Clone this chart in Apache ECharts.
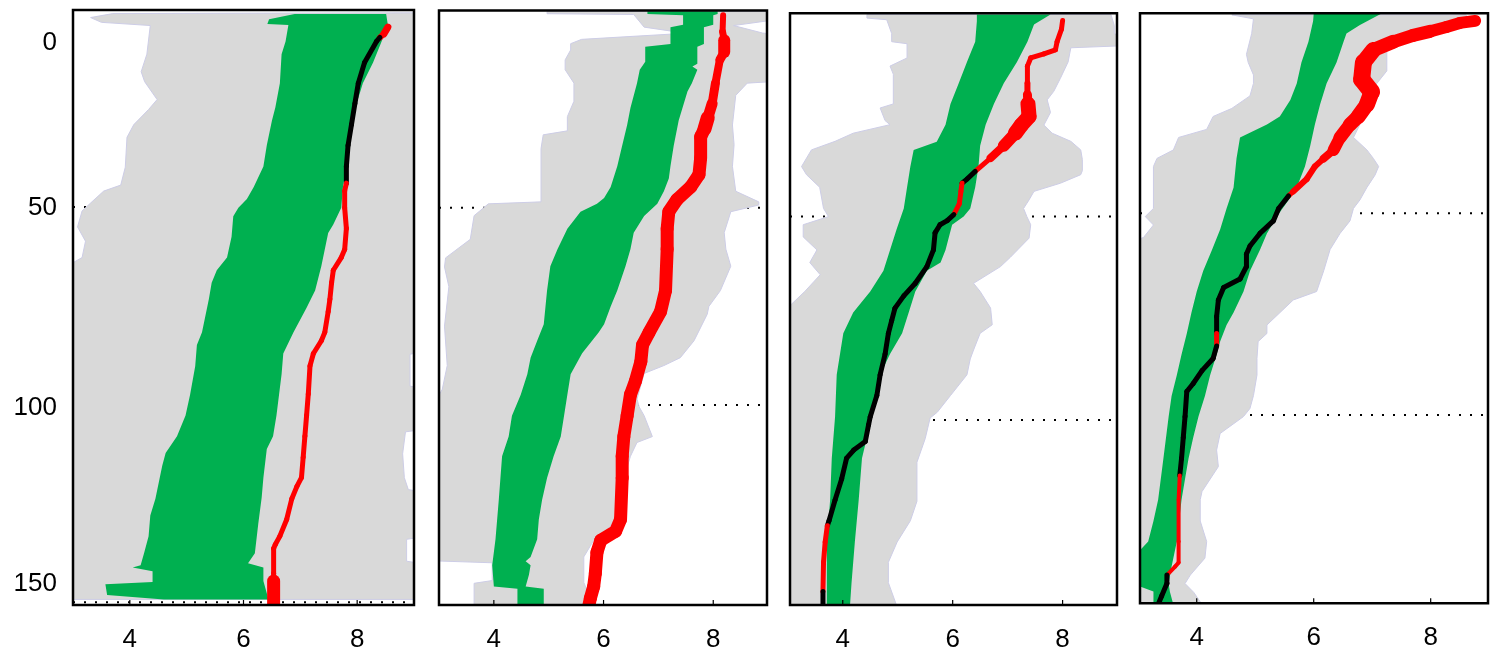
<!DOCTYPE html>
<html><head><meta charset="utf-8">
<script src="https://cdn.jsdelivr.net/npm/echarts@6/dist/echarts.min.js"></script>
<style>html,body{margin:0;padding:0;background:#fff}#c{width:1493px;height:653px}</style>
</head><body><div id="c"></div><script>
// ---------- DATA: [depth, value] pairs ----------
const X_TICKS = [4, 6, 8];
const Y_TICK_LABELS = ['0', '50', '100', '150'];
const Y_TICK_AT = [8.7, 50.3, 100.4, 144.8];
const REF_DEPTHS_P1 = [50, 100, 149.3];
const REF_DEPTHS = [50, 100];

const P1_GREY_L = [[1.4,3.7],[2.4,3.31],[3.6,3.5],[4.4,4.36],[11.6,4.3],[16,4.2],[18.5,4.26],[23,4.48],[25.5,4.33],[29.3,4.07],[32.5,3.95],[40,3.92],[44.5,3.84],[46,3.54],[49,3.31],[51,3.16],[55,3.08],[58.6,3.22],[62.7,3.16],[64.8,2.9],[148.6,2.9]];
const P1_GREY_R = [[1.2,9.1],[86.5,9.1],[87,8.93],[95,8.93],[95.5,9.1],[106,9.1],[106.5,8.85],[112,8.8],[118,8.83],[121,8.9],[121.5,9.1],[133,9.1],[133.5,8.87],[139,8.87],[139.5,9.1],[148.6,9.1]];
const P1_GREEN_L = [[1.5,6.9],[2.8,6.45],[4.0,6.42],[4.3,6.79],[8.4,6.74],[11.6,6.67],[18.9,6.64],[25,6.56],[28.3,6.5],[34.5,6.41],[39.8,6.35],[45,6.18],[48,6.06],[50.2,5.91],[52.3,5.82],[57.5,5.79],[62.7,5.71],[65.9,5.53],[69,5.44],[73.2,5.39],[81.5,5.27],[84.7,5.18],[90,5.15],[97.2,5.06],[102.4,4.98],[107.6,4.83],[111.8,4.63],[115,4.57],[123.3,4.45],[127.5,4.36],[132.7,4.33],[137,4.25],[140,4.19],[140.6,4.05],[141.5,4.4],[144.2,4.4],[144.8,3.57],[147.5,3.6],[148.6,4.6]];
const P1_GREEN_R = [[1.5,8.51],[4.3,8.54],[8.4,8.43],[13.7,8.28],[18.9,8.1],[24,7.99],[29.3,7.93],[34.5,7.87],[39.8,7.81],[45,7.75],[50.2,7.72],[54.4,7.58],[56.5,7.49],[60.7,7.43],[64.8,7.37],[71,7.26],[75.3,7.11],[81.5,6.88],[86.8,6.7],[92,6.67],[102.4,6.58],[107.6,6.52],[110.8,6.41],[118,6.35],[123,6.32],[129.6,6.26],[137,6.2],[139.5,6.08],[140.6,6.35],[144,6.35],[148.6,6.44]];
// trace: [depth, value, thickness, flag(1 = black, 0 = red)]
const P1_TRACE = [[4.8,8.54,7,0],[6.5,8.47,6,0],[7.4,8.4,5,1],[8.4,8.34,5,1],[13.7,8.13,5,1],[18.9,8.02,5,1],[24,7.96,5,1],[29.3,7.9,5,1],[34.5,7.84,5,1],[39.8,7.81,5,1],[44,7.81,5,0],[46,7.78,5,0],[50.2,7.78,5,0],[55.4,7.81,5,0],[60.7,7.78,5,0],[62.7,7.72,5,0],[65.9,7.58,5,0],[69,7.55,5,0],[73.2,7.52,5,0],[76.3,7.49,5,0],[81.5,7.43,5,0],[83.6,7.37,5,0],[86.8,7.23,5,0],[89.9,7.17,5,0],[97,7.14,5,0],[102.4,7.11,5,0],[107.6,7.08,5,0],[112.9,7.05,5,0],[118,7.02,5,0],[120.2,6.94,5,0],[123.3,6.85,5,0],[128.5,6.76,5,0],[132.7,6.64,5,0],[134.8,6.56,5,0],[135.8,6.53,5,0],[142,6.53,5,0],[144,6.53,13,0],[150.5,6.53,13,0]];

const P2_GREY_L = [[0.2,4.97],[0.8,4.97],[1.0,6.55],[4.2,6.74],[5.75,7.5],[7.3,5.6],[8.4,5.4],[10,5.4],[12.5,5.3],[15,5.3],[18.4,5.46],[23,5.46],[26.9,5.34],[30.5,5.34],[31.5,4.9],[35,4.86],[48.5,4.86],[49,3.9],[52,3.64],[58,3.57],[62.7,3.12],[65,3.1],[70,3.18],[80,3.1],[90,3.15],[96,3.06],[100,2.9],[139.5,2.9],[140,3.97],[144.5,3.97],[145.2,3.64],[151,3.64]];
const P2_GREY_R = [[0.2,9.1],[2.4,9.1],[3.8,8.37],[5.7,8.9],[6.0,9.1],[18,9.1],[18.4,8.62],[21.5,8.41],[29,8.35],[34,8.38],[39.5,8.35],[45.8,8.41],[48.5,8.83],[49.3,8.83],[51,8.32],[56.3,8.2],[60.5,8.23],[64.8,8.32],[71,8.13],[75,7.92],[77,7.89],[83.7,7.65],[88,7.4],[90,7.1],[92,6.74],[98.5,6.61],[100.5,6.65],[102.7,6.74],[108,6.89],[109.5,6.61],[113,6.49],[124,6.25],[129,6.22],[132,6.04],[134.3,5.82],[138.5,5.64],[145,5.64],[151,5.82]];
const P2_GREEN_L = [[0.2,6.8],[0.9,6.8],[1.2,7.45],[3.6,7.45],[4.2,7.22],[8.5,7.22],[9.2,6.76],[13,6.76],[15,6.66],[18.4,6.61],[24.7,6.49],[29,6.43],[34.2,6.34],[39.5,6.25],[44.7,6.13],[47.5,6.01],[49,5.88],[51,5.58],[55.3,5.34],[60.5,5.16],[64.8,5.03],[71,4.97],[79.5,4.91],[83.7,4.79],[88,4.67],[92.2,4.61],[97.4,4.49],[102.7,4.33],[108,4.27],[113,4.15],[124,4.09],[134,4.03],[140.6,3.97],[146,4.0],[146.6,4.43],[151,4.43]];
const P2_GREEN_R = [[0.2,8.08],[0.9,8.08],[1.2,8.0],[3.6,8.0],[4.2,7.83],[8.5,7.83],[9.2,7.71],[13.5,7.71],[14.2,7.62],[15,7.71],[18.4,7.61],[20.5,7.53],[27.9,7.37],[34.2,7.28],[39.5,7.22],[42.6,7.19],[45.8,7.1],[49,6.98],[52.1,6.74],[56.3,6.55],[60.5,6.49],[64.8,6.4],[71,6.25],[75,6.13],[79.5,6.01],[81.6,5.91],[86.9,5.61],[92.2,5.4],[97.4,5.34],[102.7,5.28],[108,5.22],[113,5.09],[118.5,4.97],[124,4.88],[129,4.82],[134,4.79],[138.5,4.67],[139.6,4.58],[140.6,4.67],[143,4.64],[146,4.58],[146.6,4.91],[151,4.91]];
const P2_TRACE = [[1.2,8.18,6,0],[5.4,8.17,7,0],[7.5,8.2,12,0],[10.5,8.2,9,0],[12.5,8.12,8,0],[18.4,8.04,9,0],[23.6,7.98,11,0],[27.2,7.9,14,0],[30,7.84,13,0],[32,7.77,13,0],[37.4,7.77,13,0],[41.6,7.74,13,0],[44.7,7.59,13,0],[47.9,7.34,13,0],[51,7.19,13,0],[55.3,7.16,13,0],[60.5,7.16,13,0],[71,7.13,13,0],[76.3,7.04,13,0],[81.6,6.83,13,0],[84.8,6.71,13,0],[89,6.68,13,0],[94,6.58,13,0],[97.4,6.49,13,0],[102.7,6.43,13,0],[108,6.37,13,0],[113,6.34,13,0],[118.5,6.34,13,0],[129,6.31,13,0],[132,6.22,13,0],[134.3,5.95,13,0],[137.3,5.88,13,0],[142.7,5.85,13,0],[146,5.82,13,0],[149,5.76,13,0],[151,5.73,13,0]];

const P3_GREY_L = [[0.3,4.44],[1.2,4.44],[1.6,4.8],[5,4.89],[7,4.89],[7.5,5.17],[11,5.17],[13,4.86],[15,4.92],[22.3,4.92],[23.3,4.68],[26.4,4.77],[27.4,4.86],[29.5,4.19],[31.5,3.86],[33.6,3.43],[37.7,3.25],[39.7,3.34],[42.8,3.58],[48,3.65],[50,3.74],[52,3.28],[55,3.28],[58.2,3.53],[61.3,3.4],[64.3,3.59],[68.4,3.31],[71.5,3.07],[72.5,2.9],[146,2.9]];
const P3_GREY_R = [[0.3,8.88],[3,8.94],[5,8.94],[6,9.1],[8,9.1],[8.5,8.15],[12,8.1],[16,7.96],[19.2,7.84],[21.3,7.72],[24.4,7.78],[27.5,7.66],[29.5,7.81],[31.5,8.15],[33.6,8.33],[36,8.36],[38.7,8.36],[39.7,8.33],[41.8,7.96],[43.8,7.48],[45.9,7.39],[48,7.29],[50,7.35],[52,7.42],[55.3,7.39],[60,7.05],[62.3,6.87],[66.4,6.38],[68.4,6.5],[72.5,6.69],[76.6,6.72],[78.7,6.5],[82.8,6.38],[85,6.32],[88.9,6.26],[94,5.96],[98.1,5.72],[99.5,5.59],[104.6,5.5],[110.4,5.35],[120,5.35],[124.8,5.23],[130,4.99],[135,4.83],[140,4.83],[146,4.99]];
const P3_GREEN_L = [[0.3,6.44],[2,6.44],[7,6.41],[9,6.35],[12,6.26],[17.2,6.11],[22.3,5.96],[27.4,5.87],[31.6,5.71],[33.6,5.29],[37.7,5.23],[42.8,5.17],[48,5.11],[53.1,4.98],[58.2,4.86],[63.3,4.74],[68.4,4.5],[73.6,4.19],[78.7,4.01],[83.8,3.95],[88.9,3.89],[99.2,3.86],[109.4,3.8],[119.7,3.77],[130,3.71],[146,3.71]];
const P3_GREEN_R = [[0.3,7.78],[2.8,7.48],[7,7.36],[12,7.17],[17.2,6.93],[22.3,6.75],[27.4,6.6],[32.6,6.5],[37.7,6.47],[42.8,6.41],[48,6.32],[50,6.2],[52,5.99],[58.2,5.87],[61.3,5.78],[63.3,5.53],[68.4,5.32],[73.6,5.2],[78.7,5.08],[83.8,4.86],[88.9,4.68],[94,4.62],[99.2,4.5],[104.3,4.44],[109.4,4.35],[114.5,4.32],[119.7,4.29],[130,4.22],[140,4.16],[146,4.13]];
const P3_TRACE = [[1.8,8.0,5,0],[3.9,7.98,5,0],[7,7.9,5,0],[9,7.87,5,0],[10,7.66,5,0],[11,7.42,5,0],[13,7.36,5,0],[17.2,7.36,6,0],[20,7.36,9,0],[22.3,7.37,15,0],[25.4,7.39,15,0],[27.5,7.25,15,0],[29.5,7.14,12,0],[32.6,6.93,8,0],[35.6,6.69,5,0],[38.9,6.41,5,1],[40.8,6.26,5,1],[41.8,6.17,5,0],[43.8,6.15,5,0],[46.9,6.12,5,0],[49.5,6.02,5,1],[51,5.9,5,1],[52,5.77,5,1],[54,5.68,5,1],[58.2,5.65,5,1],[62.3,5.53,5,1],[66.4,5.32,5,1],[69.5,5.11,5,1],[72.5,4.95,5,1],[75.6,4.89,5,1],[78.7,4.83,5,1],[83.8,4.77,5,1],[88.9,4.68,5,1],[94,4.62,5,1],[99.2,4.5,5,1],[101.2,4.47,5,1],[105.3,4.41,5,1],[107.4,4.2,5,1],[109.4,4.07,5,1],[114.5,3.98,5,1],[119.7,3.86,5,1],[124.8,3.75,5,1],[126,3.72,5,0],[130,3.68,5,0],[135,3.65,5,0],[142.2,3.64,5,1],[146,3.64,5,1]];

const P4_GREY_L = [[0.8,4.6],[1.8,4.97],[5.4,4.94],[10.6,4.85],[12.6,4.88],[15.7,4.97],[17.8,4.97],[20.9,4.91],[24,4.6],[26,4.28],[29.2,4.17],[31.2,3.69],[34.3,3.6],[36.4,3.32],[38.4,3.26],[48.8,3.26],[50.8,3.12],[52.9,3.26],[56,3.09],[57,2.9],[147,2.9]];
const P4_GREY_R = [[0.8,8.6],[2.3,8.7],[4.5,8.3],[6.5,7.25],[14.7,7.25],[17.8,7.08],[23,6.91],[26,6.79],[28,6.79],[31.2,6.68],[34.3,6.91],[36.4,7.02],[38.4,7.11],[40.5,7.05],[43.6,6.91],[46.7,6.79],[48.8,6.68],[51.9,6.62],[55,6.45],[59,6.28],[64.3,6.17],[69.4,6.05],[71.5,5.65],[77.7,5.2],[79.8,5.2],[81.8,5.05],[86,5.03],[90.1,5.03],[95.2,4.97],[98.4,4.91],[100.4,4.8],[104.6,4.4],[108.7,4.34],[112.8,4.37],[119,4.09],[121,4.06],[126.3,4.06],[131.4,4.17],[135.5,4.14],[139.7,3.89],[141.8,3.8],[144,3.95],[147,4.09]];
const P4_GREEN_L = [[0.5,6.0],[2.3,5.99],[7.5,5.91],[12.6,5.79],[17.8,5.71],[21.9,5.6],[26,5.42],[28,5.2],[31.2,4.74],[36.4,4.68],[43.6,4.63],[48.8,4.51],[54,4.4],[59.1,4.26],[64.3,4.11],[69.4,4.0],[74.6,3.91],[79.8,3.83],[85,3.74],[90.1,3.66],[95.3,3.57],[100.4,3.52],[110.8,3.43],[121,3.34],[126.3,3.26],[131.4,3.17],[135.5,2.9],[141.8,2.9],[143.8,3.26],[147,3.26]];
const P4_GREEN_R = [[0.5,7.16],[3.3,6.79],[5.4,6.56],[7.5,6.51],[12.6,6.39],[17.8,6.22],[23,6.11],[28,6.02],[33.3,5.94],[38.4,5.85],[43.6,5.71],[46.7,5.57],[50.8,5.37],[55,5.2],[59.1,5.08],[64.3,4.91],[69.4,4.8],[74.6,4.63],[77.7,4.51],[81.8,4.4],[85,4.34],[90.1,4.23],[95.3,4.14],[100.4,4.03],[105.6,3.94],[110.8,3.86],[115.9,3.8],[121,3.74],[131.4,3.66],[137.6,3.57],[141.8,3.52],[143.8,3.54],[147,3.6]];
const P4_TRACE = [[2.3,8.76,12,0],[2.8,8.5,12,0],[3.8,8.27,12,0],[4.9,7.99,13,0],[5.9,7.7,13,0],[7.5,7.36,14,0],[9.5,7.02,16,0],[12.6,6.85,17,0],[16.8,6.82,17,0],[19.9,6.99,16,0],[23,6.91,15,0],[26,6.76,14,0],[28,6.62,13,0],[31.2,6.45,12,0],[34.3,6.34,8,0],[36.4,6.17,6,0],[38.4,6.02,6,0],[41.5,5.88,6,0],[44.6,5.65,5,0],[45.7,5.57,5,1],[48.8,5.4,5,1],[51.9,5.31,5,1],[55,5.08,5,1],[58.1,4.91,5,1],[60.1,4.85,5,1],[63.2,4.85,5,1],[66.3,4.74,5,1],[68.4,4.46,5,1],[71.5,4.37,5,1],[75.6,4.34,5,1],[79.8,4.34,5,0],[82.9,4.34,5,1],[86,4.28,5,1],[89,4.09,5,1],[92.2,3.94,5,1],[94.2,3.83,5,1],[100.4,3.8,5,1],[105.6,3.77,5,1],[110.8,3.74,5,1],[115,3.71,4,0],[121,3.69,4,0],[131.4,3.69,4,0],[136.6,3.69,4,0],[137.6,3.63,4,0],[139.7,3.49,5,1],[141.8,3.49,5,1],[144.9,3.4,5,1],[147,3.34,5,1]];

// ---------- LAYOUT / STYLE ----------
const layouts = [
  {left:73, top:10, width:341, height:596.5, xMin:3.0, xMax:9.0, yMin:0.5, yMax:150, refs:REF_DEPTHS_P1, greyL:P1_GREY_L, greyR:P1_GREY_R, greenL:P1_GREEN_L, greenR:P1_GREEN_R, trace:P1_TRACE},
  {left:439, top:10.6, width:328, height:595.9, xMin:3.0, xMax:8.98, yMin:0.01, yMax:150.7, refs:REF_DEPTHS, greyL:P2_GREY_L, greyR:P2_GREY_R, greenL:P2_GREEN_L, greenR:P2_GREEN_R, trace:P2_TRACE},
  {left:790, top:13.3, width:327, height:591.7, xMin:3.04, xMax:8.99, yMin:0.02, yMax:145.5, refs:REF_DEPTHS, greyL:P3_GREY_L, greyR:P3_GREY_R, greenL:P3_GREEN_L, greenR:P3_GREEN_R, trace:P3_TRACE},
  {left:1140, top:13.3, width:348, height:590, xMin:3.03, xMax:8.98, yMin:0.42, yMax:146.7, refs:REF_DEPTHS, greyL:P4_GREY_L, greyR:P4_GREY_R, greenL:P4_GREEN_L, greenR:P4_GREEN_R, trace:P4_TRACE}
];
const GREY = '#d9d9d9', GREY_EDGE = '#cdcde6', GREEN = '#00b050', RED = '#ff0000', BLACK = '#000000';
const FONT = 'Liberation Sans';

function bandSeries(i, left, right, fill, stroke, z) {
  return {
    type: 'custom', xAxisIndex: i, yAxisIndex: i, z: z, clip: true, silent: true,
    data: [[left[0][1], left[0][0]]], encode: {x: 0, y: 1},
    renderItem: function (params, api) {
      const pts = left.map(p => api.coord([p[1], p[0]]))
        .concat(right.slice().reverse().map(p => api.coord([p[1], p[0]])));
      return {type: 'polygon', shape: {points: pts},
        style: {fill: fill, stroke: stroke || null, lineWidth: stroke ? 1 : 0}};
    }
  };
}
function traceSeries(i, trace) {
  return {
    type: 'custom', xAxisIndex: i, yAxisIndex: i, z: 5, clip: true, silent: true,
    data: trace.map(t => [t[1], t[0], t[2], t[3]]), encode: {x: 0, y: 1},
    renderItem: function (params, api) {
      const k = params.dataIndex;
      if (k >= trace.length - 1) return null;
      const a = api.coord([api.value(0), api.value(1)]);
      const n = trace[k + 1];
      const b = api.coord([n[1], n[0]]);
      return {type: 'line', shape: {x1: a[0], y1: a[1], x2: b[0], y2: b[1]},
        style: {stroke: api.value(3) ? BLACK : RED, lineWidth: api.value(2), lineCap: 'round'}};
    }
  };
}
// short inside tick marks on the bottom frame, placed through the x scale
function tickSeries(i, L) {
  return {
    type: 'custom', xAxisIndex: i, yAxisIndex: i, z: 6, clip: false, silent: true,
    data: X_TICKS.map(v => [v, L.yMax]), encode: {x: 0, y: 1},
    renderItem: function (params, api) {
      const p = api.coord([api.value(0), api.value(1)]);
      return {type: 'line', shape: {x1: p[0], y1: p[1], x2: p[0], y2: p[1] - 5},
        style: {stroke: '#000', lineWidth: 1.2}};
    }
  };
}

const grids = [], xAxes = [], yAxes = [], series = [];
layouts.forEach((L, i) => {
  grids.push({left: L.left, top: L.top, width: L.width, height: L.height, show: true,
    borderColor: '#000', borderWidth: 2.5, backgroundColor: 'transparent', z: 10});
  xAxes.push({type: 'value', gridIndex: i, position: 'bottom', min: L.xMin, max: L.xMax,
    splitLine: {show: false}, axisLine: {show: false, onZero: false}, axisTick: {show: false},
    axisLabel: {customValues: X_TICKS, margin: 22, fontSize: 26, color: '#000', fontFamily: FONT}});
  yAxes.push({type: 'value', gridIndex: i, position: 'left', inverse: true, min: L.yMin, max: L.yMax,
    splitLine: {show: false}, axisLine: {show: false, onZero: false}, axisTick: {show: false},
    axisLabel: i === 0 ? {customValues: Y_TICK_AT, margin: 16, fontSize: 26, color: '#000', fontFamily: FONT,
      formatter: function (v) {
        let best = 0;
        Y_TICK_AT.forEach((t, j) => { if (Math.abs(t - v) < Math.abs(Y_TICK_AT[best] - v)) best = j; });
        return Y_TICK_LABELS[best];
      }} : {show: false}});
  L.refs.forEach(d => {
    series.push({type: 'line', xAxisIndex: i, yAxisIndex: i, z: 1, silent: true, symbol: 'none',
      data: [[L.xMin, d], [L.xMax, d]], lineStyle: {color: '#000', width: 2, type: [2, 9]}});
  });
  series.push(bandSeries(i, L.greyL, L.greyR, GREY, GREY_EDGE, 2));
  series.push(bandSeries(i, L.greenL, L.greenR, GREEN, null, 3));
  series.push(traceSeries(i, L.trace));
  series.push(tickSeries(i, L));
});

const chart = echarts.init(document.getElementById('c'), null, {renderer: 'canvas'});
chart.setOption({animation: false, backgroundColor: '#fff', grid: grids, xAxis: xAxes, yAxis: yAxes, series: series});
</script></body></html>
